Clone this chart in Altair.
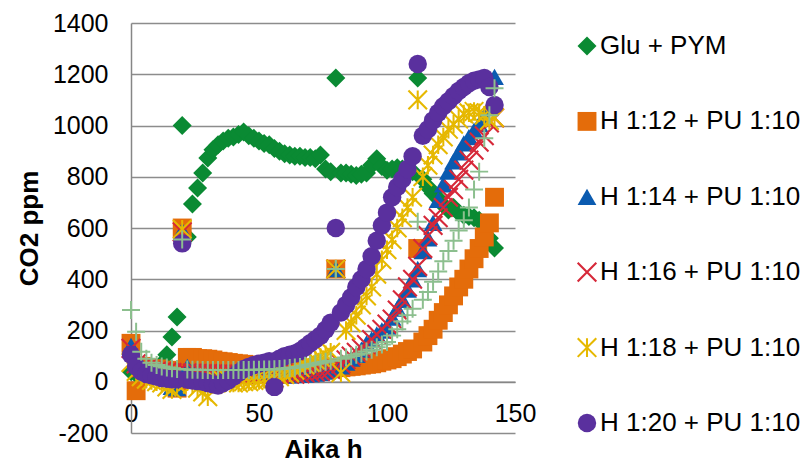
import altair as alt
import pandas as pd

# ---- data ----
hours = list(range(0, 143, 2))  # 0 .. 142 h

series_names = [
    "Glu + PYM",
    "H 1:12 + PU 1:10",
    "H 1:14 + PU 1:10",
    "H 1:16 + PU 1:10",
    "H 1:18 + PU 1:10",
    "H 1:20 + PU 1:10",
]

glu_pym = [40, 30, 35, 40, 45, 55, 70, 105, 175, 253,
           1000, 565, 694, 756, 815, 873, 905, 925, 940, 950,
           955, 965, 975, 960, 950, 940, 930, 925, 910, 900,
           890, 885, 880, 880, 875, 875, 870, 885, 830, 820,
           1185, 815, 815, 810, 805, 810, 815, 845, 870, 840,
           825, 830, 835, 830, 830, 820, 1185, 790, 760, 735,
           715, 690, 670, 680, 660, 650, 645, 640, 630, 610,
           560, 522]

h12 = [150, -35, 60, 55, 50, 50, 45, 45, 40, -25,
       600, 95, 95, 90, 90, 88, 85, 80, 78, 75,
       72, 70, 68, 65, 62, 60, 58, 55, 55, 52,
       52, 50, 50, 50, 50, 50, 50, 52, 52, 55,
       440, 55, 58, 60, 62, 65, 68, 70, 74, 80,
       85, 90, 98, 108, 118, 128, 520, 155, 180, 205,
       240, 270, 300, 335, 370, 400, 440, 480, 520, 565,
       620, 720]

h14 = [140, 80, 50, 40, 35, 32, 30, 28, -20, -25,
       590, 58, 40, 35, 32, 30, 30, 28, 28, 28,
       27, 27, 26, 26, 25, 25, 25, 25, 25, 25,
       25, 25, 26, 27, 28, 30, 32, 35, 40, 45,
       440, 60, 75, 90, 105, 125, 150, 165, 185, 200,
       215, 250, 285, 320, 360, 400, 440, 510, 560, 620,
       710, 770, 820, 860, 895, 930, 955, 980, 1005, 1035,
       1070, 1190]

h16 = [130, 70, 55, 50, 45, 42, 40, 38, 36, 35,
       585, 35, 34, 33, 32, 32, 31, 30, 30, 30,
       30, 30, 30, 30, 30, 30, 30, 30, 30, 30,
       30, 30, 30, 32, 34, 36, 38, 40, 44, 48,
       440, 70, 86, 100, 115, 130, 145, 165, 185, 205,
       225, 245, 280, 320, 370, 400, 450, 520, 570, 610,
       640, 680, 720, 750, 790, 826, 865, 904, 935, 960,
       1010, 1030]

h18 = [75, 40, 20, 10, 5, 0, -5, -20, -30, -10,
       595, 0, -10, -25, -40, -58, -10, 0, 5, 10,
       -5, -5, 0, 0, 5, 5, 10, 12, 15, 20,
       28, 35, 45, 55, 65, 75, 85, 95, 105, 115,
       440, 35, 200, 230, 260, 300, 335, 370, 420, 476,
       515, 554, 600, 640, 680, 720, 1100, 800, 845, 885,
       925, 955, 985, 1005, 1025, 1045, 1050, 1055, 1050, 1040,
       1020, 1030]

h20 = [105, 60, 40, 30, 25, 20, 15, 12, 10, 10,
       540, 8, 5, 3, 0, -5, -10, -15, -5, 5,
       20, 35, 50, 58, 65, 70, 74, 80, -20, 90,
       100, 105, 110, 120, 135, 150, 165, 180, 203, 230,
       600, 270, 300, 330, 370, 400, 440, 490, 550, 610,
       660, 720, 760, 790, 830, 880, 1240, 960, 985, 1020,
       1050, 1075, 1095, 1115, 1135, 1150, 1165, 1175, 1180, 1185,
       1150, 1080]

# seventh series (light green "+"), not named in the visible legend
extra = [280, 195, 117, 90, 74, 65, 60, 56, 53, 50,
         555, 48, 47, 47, 46, 46, 46, 46, 46, 46,
         46, 46, 46, 46, 47, 47, 48, 48, 49, 50,
         52, 54, 56, 58, 62, 66, 70, 74, 78, 82,
         440, 90, 95, 100, 105, 110, 118, 125, 135, 145,
         155, 180, 205, 235, 260, 285, 624, 320, 350, 390,
         430, 470, 510, 550, 590, 630, 680, 750, 820, 950,
         1040, 1145]

# ---- styling ----
colors = ["#0A8A33", "#E46C0A", "#0B5BB0", "#D62839", "#E6B800", "#5A309E"]
X_PATH = ("M-0.92,-1.08L1.08,0.92L0.92,1.08L-1.08,-0.92Z"
          "M1.08,-0.92L-0.92,1.08L-1.08,0.92L0.92,-1.08Z")
AST_PATH = X_PATH + "M-0.11,-1L0.11,-1L0.11,1L-0.11,1Z"
PLUS_PATH = "M-0.11,-1L0.11,-1L0.11,1L-0.11,1ZM1,-0.11L1,0.11L-1,0.11L-1,-0.11Z"
shapes = ["diamond", "square", "triangle-up", X_PATH, AST_PATH, "circle"]
sizes = [361, 340, 324, 300, 324, 314]

all_vals = [glu_pym, h12, h14, h16, h18, h20]
rows = []
for rank, (name, vals) in enumerate(zip(series_names, all_vals)):
    for t, v in zip(hours, vals):
        rows.append({"series": name, "hours": t, "co2": v, "rank": rank})
df = pd.DataFrame(rows)
df_extra = pd.DataFrame({"hours": hours, "co2": extra})

FONT = "Liberation Sans"

x_enc = alt.X(
    "hours:Q",
    scale=alt.Scale(domain=[0, 150], nice=False, zero=False),
    axis=alt.Axis(values=[0, 50, 100, 150], title="Aika h", grid=False,
                  offset=-51.25, ticks=False, tickSize=0, labelPadding=20,
                  labelFlush=False, labelExpr="'' + datum.value",
                  titleX=192, titleY=68,
                  titleBaseline="middle", titleAlign="center"),
)
y_enc = alt.Y(
    "co2:Q",
    scale=alt.Scale(domain=[-200, 1400], nice=False, zero=False),
    axis=alt.Axis(values=list(range(-200, 1401, 200)), title="CO2 ppm",
                  ticks=False, tickSize=0, labelPadding=23,
                  labelExpr="'' + datum.value",
                  titleX=-102, titleY=205, titleAngle=270,
                  titleBaseline="middle", titleAlign="center"),
)

legend = alt.Legend(orient="none", legendX=443, legendY=10, title=None,
                    direction="vertical", labelLimit=400)

main = alt.Chart(df).mark_point(filled=True, opacity=1, strokeWidth=0).encode(
    x=x_enc,
    y=y_enc,
    color=alt.Color("series:N", scale=alt.Scale(domain=series_names, range=colors),
                    legend=legend),
    shape=alt.Shape("series:N", scale=alt.Scale(domain=series_names, range=shapes),
                    legend=legend),
    size=alt.Size("series:N", scale=alt.Scale(domain=series_names, range=sizes),
                  legend=None),
    order=alt.Order("rank:Q"),
)

plus_layer = alt.Chart(df_extra).mark_point(
    filled=True, opacity=1, strokeWidth=0, shape=PLUS_PATH, size=324,
    color="#8CBF8E",
).encode(x="hours:Q", y="co2:Q")

chart = alt.layer(main, plus_layer).properties(
    width=384,
    height=410,
    autosize=alt.AutoSizeParams(type="none"),
    padding={"left": 131, "top": 23, "right": 292, "bottom": 31},
).configure_view(strokeWidth=0).configure_axis(
    domainColor="#868686", domainWidth=1.5,
    gridColor="#8C8C8C", gridWidth=1.5,
    labelFont=FONT, labelFontSize=25, labelColor="#000000",
    titleFont=FONT, titleFontSize=26, titleFontWeight="bold", titleColor="#000000",
).configure_legend(
    labelFont=FONT, labelFontSize=26, labelColor="#000000", labelLimit=400,
    symbolSize=280, symbolOpacity=1, symbolStrokeWidth=0,
    rowPadding=49.4, labelOffset=0, padding=0,
)

chart.save("out.html", embed_options={"renderer": "svg", "actions": False})
